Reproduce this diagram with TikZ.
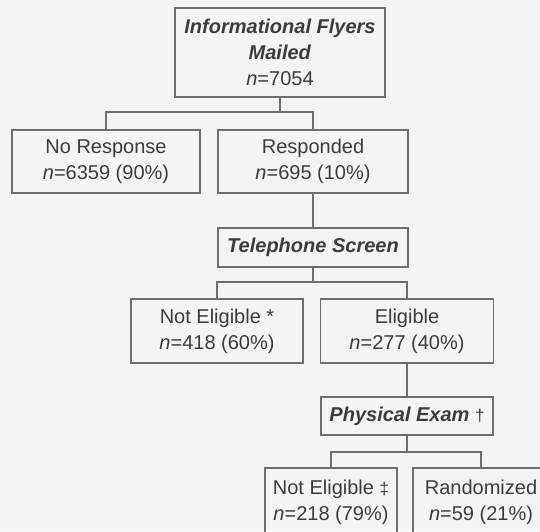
\documentclass[tikz,border=0pt]{standalone}
\usepackage{fontspec}
\setmainfont{Liberation Sans}
\usetikzlibrary{positioning}
\definecolor{paper}{HTML}{F4F4F2}
\definecolor{ink}{HTML}{3C3C3C}
\definecolor{frame}{HTML}{6E6E6E}
\tikzstyle{box} = [rectangle, draw=frame, line width=1.1pt, text=ink, align=center, inner sep=0pt, font=\fontsize{20}{26}\selectfont]
\tikzstyle{link} = [draw=frame, line width=1.1pt]
\newcommand{\stage}[1]{\textbf{\textit{#1}}}
\newcommand{\footmark}[1]{{\fontsize{17}{17}\selectfont #1}}

\begin{document}
\begin{tikzpicture}[x=1pt, y=-1pt]
            \useasboundingbox (0,0) rectangle (540,531);
            \clip (0,0) rectangle (540,531);
            \fill [paper] (0,0) rectangle (540,531);

            \node (mailed)   [box, minimum width=210pt, minimum height=89pt] at (280,52.5) {\stage{Informational Flyers}\\\stage{Mailed}\\\textit{n}=7054};
            \node (noresp)   [box, minimum width=188pt, minimum height=63pt] at (106,161.5) {No Response\\\textit{n}=6359 (90\%)};
            \node (resp)     [box, minimum width=190pt, minimum height=63pt] at (313,161.5) {Responded\\\textit{n}=695 (10\%)};
            \node (phone)    [box, minimum width=190pt, minimum height=39pt] at (313,247.5) {\stage{Telephone Screen}};
            \node (notelig)  [box, minimum width=172pt, minimum height=64pt] at (217,331) {Not Eligible *\\\textit{n}=418 (60\%)};
            \node (elig)     [box, minimum width=173pt, minimum height=64pt] at (407,331) {Eligible\\\textit{n}=277 (40\%)};
            \node (exam)     [box, minimum width=172pt, minimum height=38pt] at (407,416) {\stage{Physical Exam} \footmark{†}};
            \node (notelig2) [box, minimum width=132pt, minimum height=68pt] at (331,502) {Not Eligible \footmark{‡}\\\textit{n}=218 (79\%)};
            \node (random)   [box, minimum width=136pt, minimum height=68pt] at (481,502) {Randomized\\\textit{n}=59 (21\%)};

            \coordinate (split1) at (280,112);
            \coordinate (split2) at (313,282);
            \coordinate (split3) at (407,452);

            \draw [link] (mailed) -- (split1);
            \draw [link] (split1) -| (noresp);
            \draw [link] (split1) -| (resp);
            \draw [link] (resp) -- (phone);
            \draw [link] (phone) -- (split2);
            \draw [link] (split2) -| (notelig);
            \draw [link] (split2) -| (elig);
            \draw [link] (elig) -- (exam);
            \draw [link] (exam) -- (split3);
            \draw [link] (split3) -| (notelig2);
            \draw [link] (split3) -| (random);
        \end{tikzpicture}
\end{document}
